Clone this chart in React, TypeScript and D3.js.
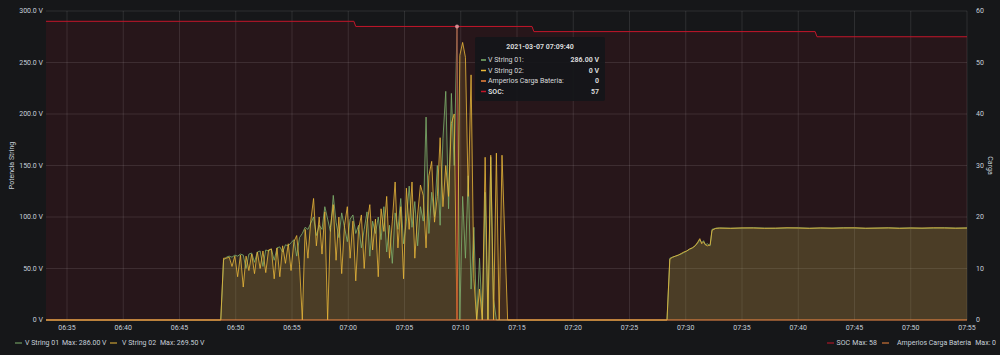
import React, { useEffect } from "react";
import * as d3 from "d3";

// ---------- DATA ----------
const DAY = "2021-03-07";
const rangeStart = "06:33:08";
const rangeEnd = "07:55:00";

const leftTicks = [0, 50, 100, 150, 200, 250, 300];
const rightTicks = [0, 10, 20, 30, 40, 50, 60];
const timeTicks = ["06:35","06:40","06:45","06:50","06:55","07:00","07:05","07:10","07:15","07:20","07:25","07:30","07:35","07:40","07:45","07:50","07:55"];

// noisy morning section, sampled every 15 s starting at noisyStart
const noisyStart = "06:48:55";
const noisyStepSec = 15;
const string01Noisy = [
  58, 61, 62, 61, 63, 62, 64, 63, 50, 64,
  65, 56, 66, 67, 52, 68, 67, 69, 58, 70,
  71, 66, 73, 72, 75, 78, 62, 80, 84, 90,
  88, 94, 100, 82, 92, 88, 110, 98, 86, 121,
  95, 80, 104, 90, 76, 98, 102, 84, 92, 70,
  88, 105, 62, 96, 84, 100, 78, 110, 66, 92,
  55, 104, 88, 118, 74, 96, 130, 90, 115, 72,
  110, 96, 197, 84, 124, 100, 150, 92, 176, 222,
  108, 220, 150, 286, 0, 120, 60, 140, 30, 90,
  0, 60, 0, 124, 0, 158, 20, 0, 0, 0,
];
const string02Noisy = [
  60, 60, 61, 52, 62, 42, 63, 32, 62, 48,
  64, 45, 66, 50, 67, 46, 68, 69, 40, 70,
  42, 72, 55, 74, 48, 76, 82, 54, 0, 88,
  60, 96, 118, 72, 100, 64, 105, 0, 90, 112,
  58, 100, 45, 92, 110, 60, 96, 38, 88, 102,
  50, 94, 112, 68, 98, 42, 108, 86, 120, 60,
  96, 134, 70, 110, 40, 128, 88, 134, 60, 102,
  131, 121, 70, 140, 154, 95, 120, 177, 110, 150,
  120, 191, 200, 0, 257, 269.5, 255, 120, 238, 40,
  0, 30, 0, 158, 0, 160, 0, 162, 0, 160,
];

const rampTimes = ["07:28:20","07:28:35","07:28:50","07:29:05","07:29:20","07:29:35","07:29:50","07:30:05","07:30:20","07:30:35","07:30:50","07:31:05","07:31:15","07:31:25","07:31:35","07:31:45","07:31:55","07:32:10","07:32:20","07:32:40"];
const string01Ramp = [0, 60, 61, 62, 63, 64, 65.5, 67, 68.5, 70, 72, 75, 78, 75, 77, 73, 74, 72, 88, 89];
const string02Ramp = [0, 59, 61, 62, 63, 64.5, 66, 67, 69, 70, 72, 76, 79, 74, 76, 73, 72, 73, 87, 89];

const flatStart = "07:33:00";
const flatStepSec = 60;
const string01Flat = [89.4, 89.1, 89.3, 89.6, 89.2, 89.0, 89.4, 89.5, 89.1, 89.3, 89.2, 89.6, 89.4, 89.0, 89.3, 89.5, 89.2, 89.4, 89.1, 89.3, 89.6, 89.2, 89.4];
const string02Flat = [89.2, 89.0, 89.4, 89.3, 89.0, 89.2, 89.5, 89.3, 89.0, 89.4, 89.1, 89.3, 89.5, 89.1, 89.2, 89.4, 89.0, 89.3, 89.2, 89.5, 89.3, 89.1, 89.3];

const zeroBefore = ["06:33:08", "06:48:40"];
const zeroBetween = ["07:14:10"];

const socTimes = ["06:33:08","07:00:30","07:00:40","07:16:20","07:16:30","07:41:30","07:41:40","07:55:00"];
const socValues = [58, 58, 57, 57, 56, 56, 55, 55];

const ampTimes = ["06:33:08", "07:55:00"];
const ampValues = [0, 0];

const hoverTime = "07:09:40";
const tooltipRows = [
  { label: "V String 01:", value: "286.00 V", color: "#7EB26D", bold: false },
  { label: "V String 02:", value: "0 V", color: "#EAB839", bold: false },
  { label: "Amperios Carga Bateria:", value: "0", color: "#EF843C", bold: false },
  { label: "SOC:", value: "57", color: "#C4162A", bold: true },
];

// ---------- helpers ----------
const parse = d3.timeParse("%Y-%m-%d %H:%M:%S");
const toDate = (t: string) => parse(`${DAY} ${t.length === 5 ? t + ":00" : t}`) as Date;
const addSec = (d: Date, s: number) => new Date(d.getTime() + s * 1000);

type P = { t: Date; v: number };

function buildString(noisy: number[], ramp: number[], flat: number[]): P[] {
  const pts: P[] = [];
  zeroBefore.forEach((t) => pts.push({ t: toDate(t), v: 0 }));
  const n0 = toDate(noisyStart);
  noisy.forEach((v, i) => pts.push({ t: addSec(n0, i * noisyStepSec), v }));
  zeroBetween.forEach((t) => pts.push({ t: toDate(t), v: 0 }));
  rampTimes.forEach((t, i) => pts.push({ t: toDate(t), v: ramp[i] }));
  const f0 = toDate(flatStart);
  flat.forEach((v, i) => pts.push({ t: addSec(f0, i * flatStepSec), v }));
  return pts;
}

const BG = "#161719";
const TXT = "#c7d0d9";
const FONT = "Roboto, 'Helvetica Neue', Arial, sans-serif";

export default function App() {
  useEffect(() => {
    document.body.style.margin = "0";
    document.body.style.background = BG;
  }, []);

  const W = 1000, H = 355;
  const left = 46, right = 967, top = 11, bottom = 320;

  const x = d3.scaleTime().domain([toDate(rangeStart), toDate(rangeEnd)]).range([left, right]);
  const yL = d3.scaleLinear().domain([0, 300]).range([bottom, top]);
  const yR = d3.scaleLinear().domain([0, 60]).range([bottom, top]);

  const s1 = buildString(string01Noisy, string01Ramp, string01Flat);
  const s2 = buildString(string02Noisy, string02Ramp, string02Flat);
  const soc: P[] = socTimes.map((t, i) => ({ t: toDate(t), v: socValues[i] }));
  const amp: P[] = ampTimes.map((t, i) => ({ t: toDate(t), v: ampValues[i] }));

  const lineL = d3.line<P>().x((d) => x(d.t)).y((d) => yL(d.v));
  const areaL = d3.area<P>().x((d) => x(d.t)).y0(yL(0)).y1((d) => yL(d.v));
  const lineR = d3.line<P>().x((d) => x(d.t)).y((d) => yR(d.v));
  const areaR = d3.area<P>().x((d) => x(d.t)).y0(yR(0)).y1((d) => yR(d.v));

  const hx = x(toDate(hoverTime));
  const hy = yR(57);

  const tipX = 475, tipY = 37, tipW = 130, tipH = 64;
  const ly = 343;

  return (
    <svg width={W} height={H} style={{ display: "block", background: BG }} fontFamily={FONT}>
      <rect x={0} y={0} width={W} height={H} fill={BG} />

      {/* SOC area fill */}
      <path d={areaR(soc) || ""} fill="#C4162A" fillOpacity={0.1} />

      {/* grid */}
      {leftTicks.map((v) => (
        <line key={"gh" + v} x1={left} x2={right} y1={yL(v)} y2={yL(v)} stroke="#ffffff" strokeOpacity={0.1} strokeWidth={1} />
      ))}
      {timeTicks.map((t) => (
        <line key={"gv" + t} x1={x(toDate(t))} x2={x(toDate(t))} y1={top} y2={bottom} stroke="#ffffff" strokeOpacity={0.1} strokeWidth={1} />
      ))}

      {/* string areas */}
      <path d={areaL(s1) || ""} fill="#7EB26D" fillOpacity={0.12} />
      <path d={areaL(s2) || ""} fill="#EAB839" fillOpacity={0.14} />

      {/* lines */}
      <path d={lineL(s1) || ""} fill="none" stroke="#7EB26D" strokeWidth={1} strokeOpacity={0.8} />
      <path d={lineL(s2) || ""} fill="none" stroke="#EAB839" strokeWidth={1} strokeOpacity={0.8} />
      <path d={lineR(soc) || ""} fill="none" stroke="#C4162A" strokeWidth={1} />
      <path d={lineR(amp) || ""} fill="none" stroke="#EF843C" strokeWidth={1.2} />

      {/* crosshair */}
      <line x1={hx} x2={hx} y1={hy} y2={bottom} stroke="#C4162A" strokeWidth={1} strokeOpacity={0.8} />
      <circle cx={hx} cy={hy} r={2} fill="#e8a0a8" fillOpacity={0.8} />

      {/* left axis labels */}
      {leftTicks.map((v) => (
        <text key={"yl" + v} x={43} y={yL(v)} dy="0.35em" textAnchor="end" fontSize={7} fill={TXT}>
          {v === 0 ? "0 V" : d3.format(".1f")(v) + " V"}
        </text>
      ))}
      {/* right axis labels */}
      {rightTicks.map((v) => (
        <text key={"yr" + v} x={976} y={yR(v)} dy="0.35em" textAnchor="start" fontSize={7} fill={TXT}>
          {v}
        </text>
      ))}
      {/* x axis labels */}
      {timeTicks.map((t) => (
        <text key={"xl" + t} x={x(toDate(t))} y={328} dy="0.35em" textAnchor="middle" fontSize={7} fill={TXT}>
          {t}
        </text>
      ))}

      {/* axis titles */}
      <text transform={`translate(12,${(top + bottom) / 2}) rotate(-90)`} textAnchor="middle" fontSize={7} fill={TXT} dy="0.35em">
        Potencia String
      </text>
      <text transform={`translate(990,${(top + bottom) / 2}) rotate(90)`} textAnchor="middle" fontSize={7} fill={TXT} dy="0.35em">
        Carga
      </text>

      {/* legend */}
      <g fontSize={7} fill={TXT}>
        <line x1={15} x2={22} y1={ly} y2={ly} stroke="#7EB26D" strokeWidth={1} />
        <text x={25} y={ly} dy="0.35em">V String 01</text>
        <text x={62} y={ly} dy="0.35em">Max: 286.00 V</text>
        <line x1={110} x2={117} y1={ly} y2={ly} stroke="#EAB839" strokeWidth={1} />
        <text x={122} y={ly} dy="0.35em">V String 02</text>
        <text x={160} y={ly} dy="0.35em">Max: 269.50 V</text>

        <text x={996} y={ly} dy="0.35em" textAnchor="end">Max: 0</text>
        <text x={971} y={ly} dy="0.35em" textAnchor="end">Amperios Carga Bateria</text>
        <line x1={882} x2={889} y1={ly} y2={ly} stroke="#EF843C" strokeWidth={1} />
        <text x={877} y={ly} dy="0.35em" textAnchor="end">Max: 58</text>
        <text x={850} y={ly} dy="0.35em" textAnchor="end">SOC</text>
        <line x1={827} x2={834} y1={ly} y2={ly} stroke="#C4162A" strokeWidth={1} />
      </g>

      {/* tooltip */}
      <g>
        <rect x={tipX} y={tipY} width={tipW} height={tipH} rx={2} fill="#141619" fillOpacity={0.92} />
        <text x={tipX + tipW / 2} y={tipY + 10} dy="0.35em" textAnchor="middle" fontSize={7} fontWeight="bold" fill="#d8d9da">
          2021-03-07 07:09:40
        </text>
        {tooltipRows.map((r, i) => {
          const ry = tipY + 23 + i * 10.5;
          return (
            <g key={r.label}>
              <line x1={tipX + 6} x2={tipX + 11} y1={ry} y2={ry} stroke={r.color} strokeWidth={1.5} />
              <text x={tipX + 13} y={ry} dy="0.35em" fontSize={7} fill="#d8d9da" fontWeight={r.bold ? "bold" : "normal"}>
                {r.label}
              </text>
              <text x={tipX + tipW - 6} y={ry} dy="0.35em" textAnchor="end" fontSize={7} fill="#d8d9da" fontWeight="bold">
                {r.value}
              </text>
            </g>
          );
        })}
      </g>
    </svg>
  );
}
